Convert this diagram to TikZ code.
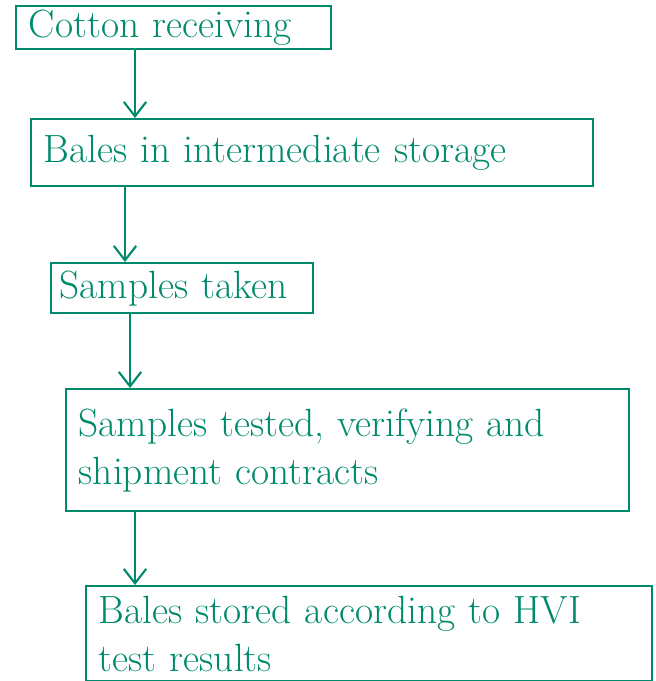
\documentclass[tikz,border=0pt]{standalone}
\usepackage{tikz}
\usetikzlibrary{arrows.meta,positioning}

\definecolor{ink}{RGB}{0,138,108}
\def\u{0.025cm}

\begin{document}
\begin{tikzpicture}[x=\u,y=-\u,>={Straight Barb[length=3.6mm,width=5.6mm,line width=1.5pt]},
  stage/.style={draw=ink,line width=1.6pt,text=ink,anchor=north west,align=left,
    inner xsep=9pt,inner ysep=0pt,font=\fontsize{28}{34}\selectfont},
  flow/.style={->,draw=ink,line width=1.6pt}]

% frame
\useasboundingbox (0,0) rectangle (655,681);

% stages
\node[stage,text width=315*\u-18pt,minimum height=43*\u] (recv) at (15,5) {Cotton receiving};
\node[stage,text width=562*\u-18pt,minimum height=67*\u] (inter) at (30,118) {Bales in intermediate storage};
\node[stage,inner xsep=6pt,text width=262*\u-12pt,minimum height=50*\u] (sample) at (50,262) {Samples taken};
\node[stage,text width=563*\u-18pt,minimum height=122*\u] (test) at (65,388)
  {Samples tested, verifying and\\ shipment contracts};
\node[stage,text width=566*\u-18pt,minimum height=95*\u] (store) at (85,585)
  {Bales stored according to HVI\\ test results};

% arrows
\draw[flow] (recv.south west) ++(120,0) coordinate (a1) -- (a1 |- inter.north);
\draw[flow] (inter.south west) ++(95,0) coordinate (a2) -- (a2 |- sample.north);
\draw[flow] (sample.south west) ++(80,0) coordinate (a3) -- (a3 |- test.north);
\draw[flow] (test.south west) ++(70,0) coordinate (a4) -- (a4 |- store.north);

\end{tikzpicture}
\end{document}
